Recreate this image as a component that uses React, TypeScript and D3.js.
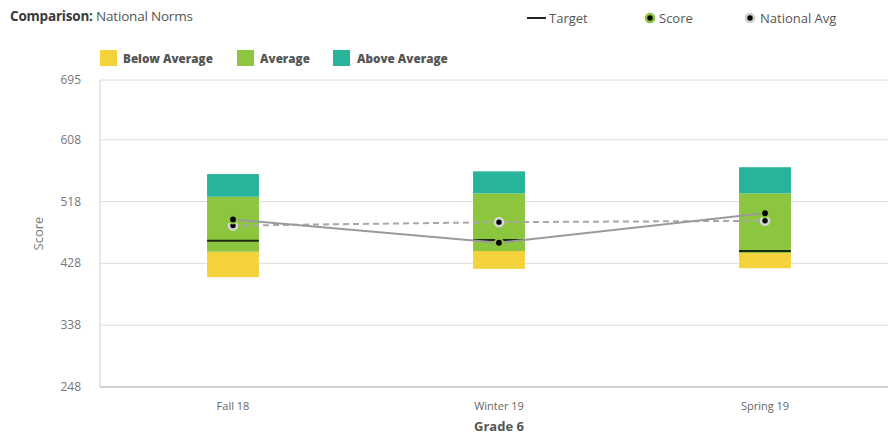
import React from "react";
import * as d3 from "d3";

// Terms and score bands
const categories = ["Fall 18", "Winter 19", "Spring 19"];
const bandBottom = [408, 420, 421];
const averageLow = [445, 446, 443];
const averageHigh = [525, 530, 530];
const bandTop = [558, 562, 568];
const targetValues = [461, 462, 446];
const scoreValues = [492, 458, 501];
const nationalAvgValues = [483, 488, 490];
const yTickValues = [248, 338, 428, 518, 608, 695];

const COLORS = {
  below: "#f3d23c",
  average: "#8cc63f",
  above: "#27b49a",
  grid: "#dedede",
  axis: "#cfcfcf",
  text: "#666",
  line: "#9a9a9a",
};

const W = 888;
const H = 435;
const plot = { left: 100, right: 898, top: 80, bottom: 387 };
const FONT = "'Open Sans', 'Noto Sans', sans-serif";

export default function App() {
  const x = d3
    .scaleBand<string>()
    .domain(categories)
    .range([plot.left, plot.right])
    .padding(0);
  const y = d3.scaleLinear().domain([248, 695]).range([plot.bottom, plot.top]);
  const barW = x.bandwidth() * 0.195;
  const cx = (c: string) => (x(c) as number) + x.bandwidth() / 2;

  const lineGen = d3
    .line<number>()
    .x((_, i) => cx(categories[i]))
    .y((v) => y(v));

  return (
    <svg
      width={W}
      height={H}
      style={{ position: "absolute", left: 0, top: 0, background: "#fff" }}
      fontFamily={FONT}
    >
      {/* header */}
      <text x={10} y={21} fontSize={13.5} fill="#3a3a3a" letterSpacing={-0.2}>
        <tspan fontWeight={700}>Comparison:</tspan>
        <tspan fill="#555"> National Norms</tspan>
      </text>

      {/* marker legend */}
      <g fontSize={13} fill="#555">
        <line x1={527} x2={546} y1={18} y2={18} stroke="#222" strokeWidth={2} />
        <text x={549} y={23}>Target</text>
        <circle cx={650} cy={18} r={4} fill="#000" stroke={COLORS.average} strokeWidth={2.6} />
        <text x={659} y={23}>Score</text>
        <circle cx={750} cy={18} r={4} fill="#000" stroke="#cfcfcf" strokeWidth={2.6} />
        <text x={760} y={23}>National Avg</text>
      </g>

      {/* band legend */}
      <g fontSize={11.7} fontWeight={800} fill="#555">
        <rect x={100} y={50} width={17} height={16} fill={COLORS.below} />
        <text x={123} y={63}>Below Average</text>
        <rect x={237} y={50} width={17} height={16} fill={COLORS.average} />
        <text x={260} y={63}>Average</text>
        <rect x={333} y={50} width={17} height={16} fill={COLORS.above} />
        <text x={357} y={63}>Above Average</text>
      </g>

      {/* grid + y axis */}
      {yTickValues.map((t) => (
        <g key={t}>
          {t !== 248 && (
            <line x1={plot.left} x2={W} y1={y(t)} y2={y(t)} stroke={COLORS.grid} strokeWidth={1} />
          )}
          <text x={81} y={y(t) + 4} textAnchor="end" fontSize={12} fill="#777">
            {t}
          </text>
        </g>
      ))}
      <line x1={plot.left} x2={plot.left} y1={plot.top} y2={plot.bottom} stroke={COLORS.axis} strokeWidth={1} />
      <line x1={plot.left} x2={W} y1={plot.bottom} y2={plot.bottom} stroke={COLORS.axis} strokeWidth={2} />
      <text
        transform={`translate(43,${(plot.top + plot.bottom) / 2}) rotate(-90)`}
        textAnchor="middle"
        fontSize={13}
        fill="#777"
      >
        Score
      </text>

      {/* stacked norm bands */}
      {categories.map((c, i) => {
        const left = cx(c) - barW / 2;
        return (
          <g key={c}>
            <rect x={left} y={y(averageLow[i])} width={barW} height={y(bandBottom[i]) - y(averageLow[i])} fill={COLORS.below} />
            <rect x={left} y={y(averageHigh[i])} width={barW} height={y(averageLow[i]) - y(averageHigh[i])} fill={COLORS.average} />
            <rect x={left} y={y(bandTop[i])} width={barW} height={y(averageHigh[i]) - y(bandTop[i])} fill={COLORS.above} />
            <line x1={left} x2={left + barW} y1={y(targetValues[i])} y2={y(targetValues[i])} stroke="#1f2a12" strokeWidth={2} />
          </g>
        );
      })}

      {/* trend lines */}
      <path d={lineGen(nationalAvgValues) || ""} fill="none" stroke="#a8a8a8" strokeWidth={2} strokeDasharray="6,4" />
      <path d={lineGen(scoreValues) || ""} fill="none" stroke={COLORS.line} strokeWidth={2} />

      {/* markers */}
      {categories.map((c, i) => (
        <g key={c}>
          <circle cx={cx(c)} cy={y(nationalAvgValues[i])} r={4} fill="#000" stroke="#d6d6d6" strokeWidth={2.6} />
          <circle cx={cx(c)} cy={y(scoreValues[i])} r={4} fill="#000" stroke={COLORS.average} strokeWidth={2.2} />
        </g>
      ))}

      {/* x axis labels */}
      {categories.map((c) => (
        <text key={c} x={cx(c)} y={410} textAnchor="middle" fontSize={11} fill="#666">
          {c}
        </text>
      ))}
      <text x={cx(categories[1])} y={431} textAnchor="middle" fontSize={13} fontWeight={700} fill="#555">
        Grade 6
      </text>
    </svg>
  );
}
